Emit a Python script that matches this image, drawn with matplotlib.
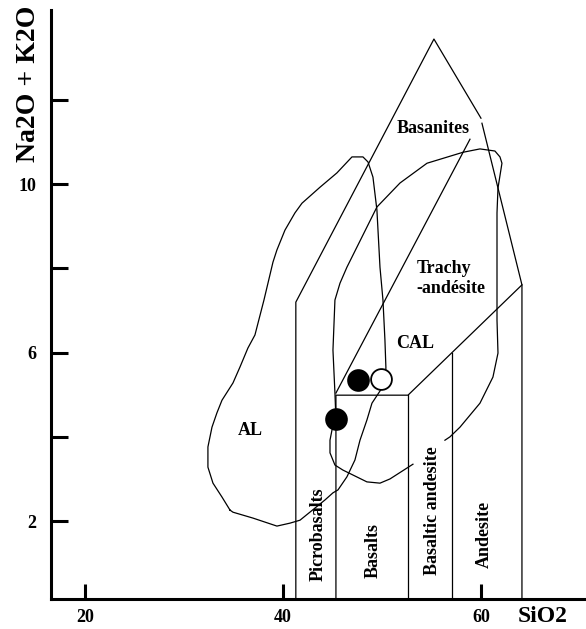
import matplotlib.pyplot as plt

# TAS field boundaries (SiO2 wt%, Na2O + K2O wt%)
picro_left_x = [41.3, 41.3, 55.25, 60.0]
picro_left_y = [0, 7.20, 13.45, 11.57]
right_edge_x = [60.1, 64.14, 64.14]
right_edge_y = [11.45, 7.61, 0]
basalt_top_x = [64.14, 52.63, 45.35, 45.35]
basalt_top_y = [7.61, 4.99, 4.99, 0]
basalt_right_x = [52.63, 52.63]
basalt_right_y = [4.99, 0]
andesite_left_x = [57.07, 57.07]
andesite_left_y = [5.99, 0]
trachy_x = [45.35, 58.89]
trachy_y = [5.04, 11.07]

# alkaline (AL) envelope
al_x = [34.65, 33.84, 32.93, 32.42, 32.42, 32.83, 33.33, 33.84, 34.95, 35.66,
        36.46, 37.17, 38.08, 38.99, 39.39, 40.20, 41.21, 41.92, 43.74, 45.45,
        46.97, 48.08, 48.59, 49.09, 49.49, 49.80, 50.10, 50.30, 50.40, 50.00,
        48.99, 48.48, 47.78, 47.27, 46.46, 45.56, 45.05, 44.24, 41.72, 40.71,
        39.39, 36.97, 34.95, 34.65]
al_y = [2.26, 2.57, 2.90, 3.28, 3.76, 4.23, 4.57, 4.87, 5.28, 5.66,
        6.11, 6.42, 7.25, 8.15, 8.44, 8.91, 9.32, 9.55, 9.93, 10.27,
        10.65, 10.65, 10.53, 10.17, 9.39, 8.03, 7.25, 6.30, 5.63, 5.16,
        4.80, 4.40, 3.92, 3.45, 3.05, 2.74, 2.67, 2.50, 2.02, 1.95,
        1.88, 2.07, 2.21, 2.26]

# calc-alkaline (CAL) envelope
cal_x = [53.13, 50.81, 49.80, 48.48, 46.06, 45.25, 44.75, 44.75, 44.95, 45.35,
         45.25, 45.05, 45.25, 45.76, 46.46, 49.49, 51.82, 54.55, 58.18, 59.90,
         61.41, 61.92, 62.12, 61.72, 61.62, 61.62, 61.72, 61.21, 59.90, 57.88,
         56.87, 56.36]
cal_y = [3.35, 3.00, 2.90, 2.93, 3.21, 3.33, 3.62, 3.92, 4.16, 4.42,
         5.04, 6.06, 7.25, 7.65, 8.03, 9.46, 10.03, 10.50, 10.76, 10.84,
         10.79, 10.65, 10.50, 9.91, 9.32, 6.77, 5.99, 5.42, 4.80, 4.23,
         4.00, 3.92]

# samples
filled_sio2 = [47.58, 45.35]
filled_alk = [5.35, 4.42]
open_sio2 = [49.90]
open_alk = [5.37]

x_ticks = [20, 40, 60]
y_ticks = [2, 4, 6, 8, 10, 12]
y_ticklabels = ['2', '', '6', '', '10', '']

plt.rcParams['font.family'] = ['Liberation Serif', 'DejaVu Serif']
plt.rcParams['font.weight'] = 'bold'

fig = plt.figure(figsize=(5.86, 6.29), dpi=100)
ax = fig.add_axes([0.0862, 0.0469, 0.9138, 0.9372])

lw = 0.9
for xs, ys in [(picro_left_x, picro_left_y), (right_edge_x, right_edge_y),
               (basalt_top_x, basalt_top_y), (basalt_right_x, basalt_right_y),
               (andesite_left_x, andesite_left_y), (trachy_x, trachy_y)]:
    ax.plot(xs, ys, color='black', lw=lw, zorder=2)
ax.plot(al_x, al_y, color='black', lw=lw, zorder=2)
ax.plot(cal_x, cal_y, color='black', lw=lw, zorder=2)

ax.plot(filled_sio2, filled_alk, 'o', ms=15, mfc='black', mec='black', mew=1.3, zorder=4)
ax.plot(open_sio2, open_alk, 'o', ms=15, mfc='white', mec='black', mew=1.3, zorder=4)

# field names
fs = 13
ax.text(55.20, 11.22, 'Basanites', ha='center', va='baseline', fontsize=fs)
ax.text(53.54, 7.89, 'Trachy', ha='left', va='baseline', fontsize=fs)
ax.text(53.43, 7.42, '-andésite', ha='left', va='baseline', fontsize=fs)
ax.text(53.38, 6.11, 'CAL', ha='center', va='baseline', fontsize=fs)
ax.text(36.67, 4.04, 'AL', ha='center', va='baseline', fontsize=fs)
for xv, yv, name in [(44.04, 1.68, 'Picrobasalts'), (49.60, 1.31, 'Basalts'),
                     (55.56, 2.24, 'Basaltic andesite'), (60.76, 1.67, 'Andesite')]:
    ax.text(xv, yv, name, rotation=90, rotation_mode='anchor',
            ha='center', va='baseline', fontsize=fs)

ax.set_xlim(16.52, 70.61)
ax.set_ylim(0.136, 14.14)
ax.set_xticks(x_ticks)
ax.set_yticks(y_ticks)
ax.set_yticklabels(y_ticklabels)
ax.tick_params(axis='x', direction='in', length=11, width=2.2, pad=7, labelsize=13)
ax.tick_params(axis='y', direction='in', length=12, width=2.2, pad=10, labelsize=13)

for side in ['top', 'right']:
    ax.spines[side].set_visible(False)
for side in ['left', 'bottom']:
    ax.spines[side].set_linewidth(2.2)

ax.set_xlabel('SiO2', fontsize=17, fontweight='bold', ha='center', va='baseline')
ax.xaxis.set_label_coords(0.9188, -0.0382)
ax.set_ylabel('Na2O + K2O', fontsize=20, fontweight='bold', ha='center', va='baseline')
ax.yaxis.set_label_coords(-0.029, 0.8745)

fig.savefig('out.png', dpi=100)
